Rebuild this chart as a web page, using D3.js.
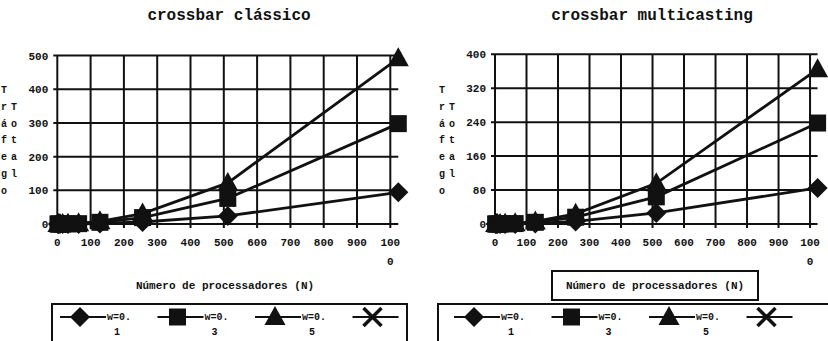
<!DOCTYPE html>
<html lang="pt">
    <head>
        <meta charset="utf-8">
        <title>crossbar</title>
        <script src="https://d3js.org/d3.v7.min.js"></script>
        <style type="text/css">
          body { margin: 0; background: #ffffff; }
          svg text { font-family: "Liberation Mono", "DejaVu Sans Mono", monospace; font-weight: bold; fill: #111; }
        </style>
    </head>
    <body>
        <script type="text/javascript">
            // numero de processadores (N)
            var procN = [2, 4, 8, 16, 32, 64, 128, 256, 512, 1024];

            // crossbar classico
            var classicoW01 = [0, 0, 0, 0, 0, 0.1, 1.5, 6, 24, 94];
            var classicoW03 = [0, 0, 0, 0, 0.3, 1, 5, 19, 76, 298];
            var classicoW05 = [0, 0, 0, 0.1, 0.5, 2, 8, 31, 122, 492];

            // crossbar multicasting
            var multiW01 = [0, 0, 0, 0, 0, 0.1, 1.3, 6, 26, 85];
            var multiW03 = [0, 0, 0, 0, 0.2, 1, 4, 16, 64, 238];
            var multiW05 = [0, 0, 0, 0.1, 0.4, 1.5, 6, 24, 96, 365];

            var xTicks = [0, 100, 200, 300, 400, 500, 600, 700, 800, 900, 1000];
            var classicoTicks = [0, 100, 200, 300, 400, 500];
            var multiTicks = [0, 80, 160, 240, 320, 400];

            var legendNames = ["w=0.|1", "w=0.|3", "w=0.|5", ""];
            var markers = ["diamond", "square", "triangle", "cross"];

            var svg = d3.select("body").append("svg")
                .attr("width", 828)
                .attr("height", 341);

            // desenha um marcador (simbolo) centrado em x,y
            function marker(g, type, x, y) {
              if (type == "diamond") {
                g.append("path").attr("d", "M" + x + "," + (y - 10) + "L" + (x + 10) + "," + y + "L" + x + "," + (y + 10) + "L" + (x - 10) + "," + y + "Z")
                  .attr("fill", "#111");
              } else if (type == "square") {
                g.append("rect").attr("x", x - 8.5).attr("y", y - 8.5).attr("width", 17).attr("height", 17).attr("fill", "#111");
              } else if (type == "triangle") {
                g.append("path").attr("d", "M" + x + "," + (y - 11) + "L" + (x + 10.5) + "," + (y + 8) + "L" + (x - 10.5) + "," + (y + 8) + "Z")
                  .attr("fill", "#111");
              } else {
                g.append("path").attr("d", "M" + (x - 9) + "," + (y - 9) + "L" + (x + 9) + "," + (y + 9) + "M" + (x + 9) + "," + (y - 9) + "L" + (x - 9) + "," + (y + 9))
                  .attr("stroke", "#111").attr("stroke-width", 3.5);
              }
            }

            function drawChart(opt) {
              var g = svg.append("g");
              var xScale = d3.scaleLinear().domain([0, 1024]).range([opt.left, opt.right]);
              var yScale = d3.scaleLinear().domain([0, opt.yTicks[opt.yTicks.length - 1]]).range([224, opt.top]);

              // titulo
              g.append("text")
                .attr("x", opt.titleX).attr("y", 20)
                .attr("text-anchor", "middle")
                .style("font-size", "16px")
                .text(opt.title);

              // grade horizontal
              g.selectAll(".hgrid").data(opt.yTicks).enter().append("line")
                .attr("x1", opt.left - 4).attr("x2", opt.right)
                .attr("y1", function(d) { return yScale(d); })
                .attr("y2", function(d) { return yScale(d); })
                .attr("stroke", "#111").attr("stroke-width", 2);

              // grade vertical
              g.selectAll(".vgrid").data(xTicks).enter().append("line")
                .attr("x1", function(d) { return xScale(d); })
                .attr("x2", function(d) { return xScale(d); })
                .attr("y1", opt.top).attr("y2", 228)
                .attr("stroke", "#111").attr("stroke-width", 2);

              // rotulos eixo y
              g.selectAll(".ylab").data(opt.yTicks).enter().append("text")
                .attr("x", opt.left - 9)
                .attr("y", function(d) { return yScale(d) + 4; })
                .attr("text-anchor", "end")
                .style("font-size", "11px")
                .text(function(d) { return d; });

              // rotulos eixo x
              g.selectAll(".xlab").data(xTicks).enter().append("text")
                .attr("x", function(d) { return xScale(d); })
                .attr("y", 246)
                .attr("text-anchor", "middle")
                .style("font-size", "11px")
                .text(function(d) { return d == 1000 ? "100" : d; });
              g.append("text")
                .attr("x", xScale(1000)).attr("y", 265)
                .attr("text-anchor", "middle")
                .style("font-size", "11px")
                .text("0");

              // titulo eixo y (empilhado)
              var col1 = "Tráfego".split("");
              var col2 = "Total".split("");
              g.selectAll(".yt1").data(col1).enter().append("text")
                .attr("x", opt.yTitleX).attr("y", function(d, i) { return 93 + i * 16.8; })
                .attr("text-anchor", "middle")
                .style("font-size", "10px")
                .text(function(d) { return d; });
              g.selectAll(".yt2").data(col2).enter().append("text")
                .attr("x", opt.yTitleX + 10).attr("y", function(d, i) { return 93 + (i + 1) * 16.8; })
                .attr("text-anchor", "middle")
                .style("font-size", "10px")
                .text(function(d) { return d; });

              // titulo eixo x
              g.append("text")
                .attr("x", opt.xTitleX).attr("y", 289)
                .attr("text-anchor", "middle")
                .style("font-size", "11px")
                .text("Número de processadores (N)");
              if (opt.xTitleBox) {
                g.append("rect")
                  .attr("x", opt.xTitleX - 103).attr("y", 271)
                  .attr("width", 206).attr("height", 29)
                  .attr("fill", "none").attr("stroke", "#111").attr("stroke-width", 2);
              }

              // series
              var line = d3.line()
                .x(function(d, i) { return xScale(procN[i]); })
                .y(function(d) { return yScale(d); });

              opt.series.forEach(function(s, k) {
                g.append("path")
                  .attr("d", line(s))
                  .attr("fill", "none")
                  .attr("stroke", "#111")
                  .attr("stroke-width", 2.8);
                s.forEach(function(d, i) {
                  marker(g, markers[k], xScale(procN[i]), yScale(d));
                });
              });

              // legenda
              g.append("rect")
                .attr("x", opt.legendX).attr("y", 304)
                .attr("width", opt.legendW).attr("height", 60)
                .attr("fill", "none").attr("stroke", "#111").attr("stroke-width", 2);

              legendNames.forEach(function(name, k) {
                var cx = opt.legendX + opt.legendPad + k * 97.5;
                g.append("line")
                  .attr("x1", cx - 20).attr("x2", cx + 26)
                  .attr("y1", 317).attr("y2", 317)
                  .attr("stroke", "#111").attr("stroke-width", 2);
                marker(g, markers[k], cx, 317);
                var parts = name.split("|");
                if (parts[0]) {
                  g.append("text").attr("x", cx + 27).attr("y", 320)
                    .style("font-size", "10px").text(parts[0]);
                  g.append("text").attr("x", cx + 34).attr("y", 335)
                    .style("font-size", "10px").text(parts[1]);
                }
              });
            }

            drawChart({
              title: "crossbar clássico", titleX: 229,
              left: 57.3, right: 398.3, top: 55.6,
              yTicks: classicoTicks, yTitleX: 4,
              xTitleX: 225, xTitleBox: false,
              series: [classicoW01, classicoW03, classicoW05],
              legendX: 52, legendW: 355, legendPad: 28
            });

            drawChart({
              title: "crossbar multicasting", titleX: 652,
              left: 495, right: 817.6, top: 54.3,
              yTicks: multiTicks, yTitleX: 442,
              xTitleX: 655, xTitleBox: true,
              series: [multiW01, multiW03, multiW05],
              legendX: 438, legendW: 402, legendPad: 36
            });
        </script>
    </body>
</html>
